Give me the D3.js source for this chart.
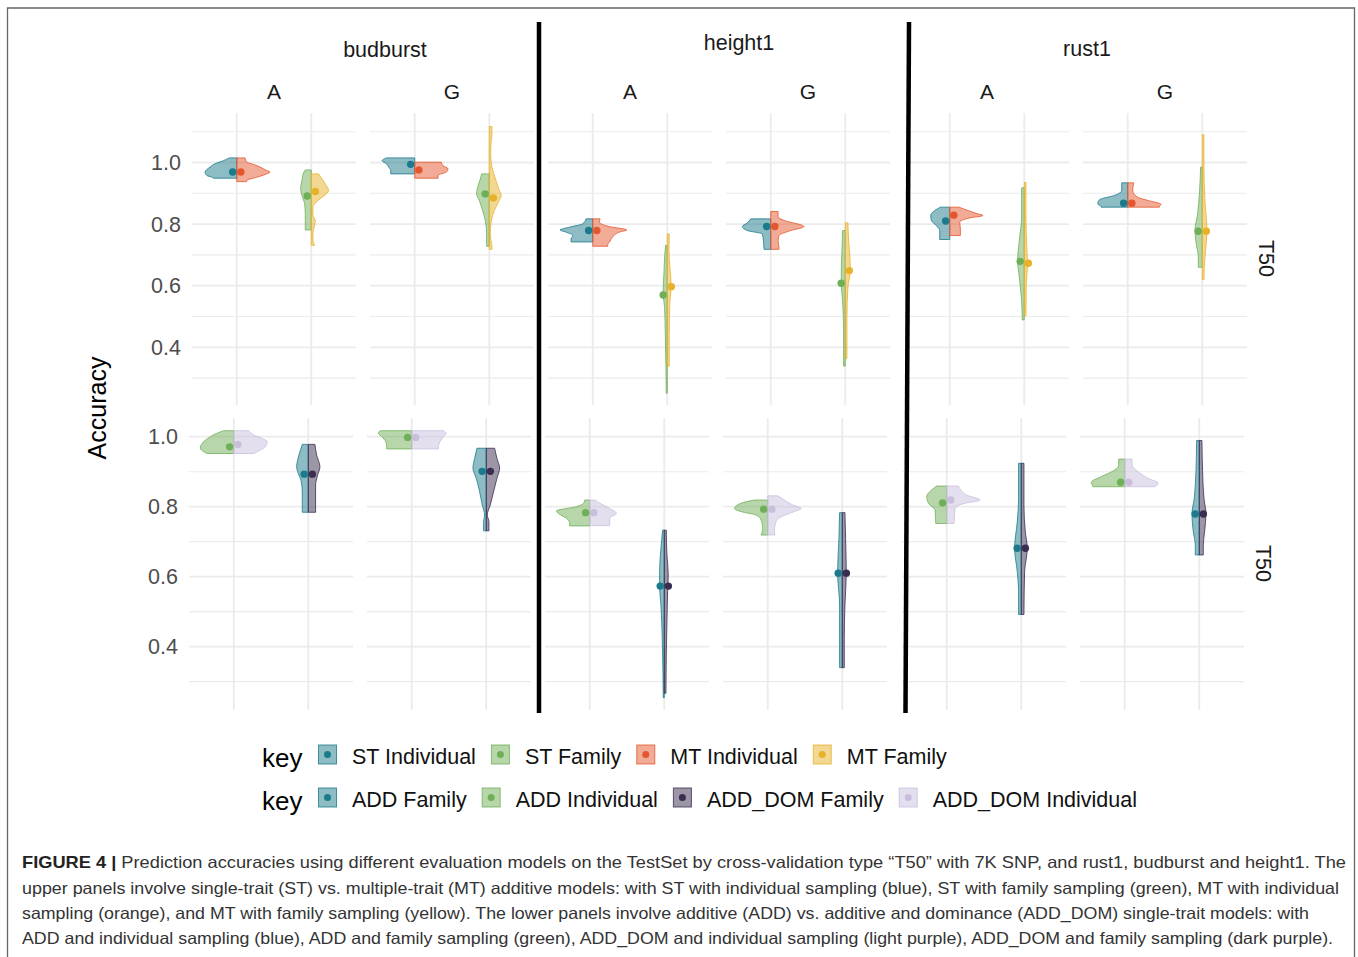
<!DOCTYPE html>
<html><head><meta charset="utf-8">
<script src="https://cdn.jsdelivr.net/npm/d3@7"></script>
<style>body{margin:0;background:#fff;} svg{display:block;font-family:"Liberation Sans",Arial,Helvetica,sans-serif;}</style>
</head><body><svg id="c" width="1358" height="957"></svg>
<script>
// ---------------- DATA ----------------
const traits = ["budburst", "height1", "rust1"];
const envs = ["A", "G"];
const categories = ["Individual", "Family"];
const yTicksMajor = [0.4, 0.6, 0.8, 1.0];
const yTicksMinor = [0.3, 0.5, 0.7, 0.9, 1.1];
const rowStripLabel = "T50";
const yTitle = "Accuracy";
const legendTitle = "key";
const keysST = ["ST Individual", "ST Family", "MT Individual", "MT Family"];
const keysADD = ["ADD Family", "ADD Individual", "ADD_DOM Family", "ADD_DOM Individual"];
const keyColors = {
  "ST Individual": "#1B7A8C", "ST Family": "#6FAF57", "MT Individual": "#E4572E", "MT Family": "#E8B12A",
  "ADD Family": "#1B7A8C", "ADD Individual": "#6FAF57", "ADD_DOM Family": "#3A2D50", "ADD_DOM Individual": "#C9BFDD"
};
const rightHalfKeys = ["MT Individual", "MT Family", "ADD_DOM Family", "ADD_DOM Individual"];

// half-violins: profile = [accuracy, relative density]
const budburstST = [
  {env:"A", cat:"Individual", key:"ST Individual", mean:0.969, profile:[[1.015,0.22],[1.006,0.40],[0.996,0.65],[0.985,0.80],[0.969,0.95],[0.958,0.90],[0.950,0.70],[0.949,0.70]]},
  {env:"A", cat:"Individual", key:"MT Individual", mean:0.969, profile:[[1.015,0.25],[1.001,0.30],[0.994,0.50],[0.985,0.70],[0.974,0.90],[0.969,1.00],[0.961,0.85],[0.952,0.60],[0.942,0.30],[0.938,0.30]]},
  {env:"A", cat:"Family", key:"ST Family", mean:0.891, profile:[[0.976,0.18],[0.969,0.22],[0.942,0.28],[0.915,0.32],[0.893,0.28],[0.866,0.20],[0.833,0.18],[0.812,0.18],[0.781,0.18]]},
  {env:"A", cat:"Family", key:"MT Family", mean:0.906, profile:[[0.963,0.22],[0.942,0.35],[0.925,0.45],[0.909,0.52],[0.893,0.40],[0.877,0.20],[0.855,0.05],[0.828,0.05],[0.812,0.12],[0.795,0.10],[0.774,0.05],[0.747,0.05],[0.731,0.10]]},
  {env:"G", cat:"Individual", key:"ST Individual", mean:0.994, profile:[[1.015,0.85],[1.006,0.98],[0.996,0.85],[0.985,0.78],[0.974,0.72],[0.963,0.72]]},
  {env:"G", cat:"Individual", key:"MT Individual", mean:0.976, profile:[[1.001,0.80],[0.990,0.85],[0.979,1.00],[0.969,0.95],[0.958,0.70],[0.949,0.70]]},
  {env:"G", cat:"Family", key:"ST Family", mean:0.898, profile:[[0.963,0.23],[0.942,0.28],[0.920,0.35],[0.898,0.38],[0.877,0.30],[0.844,0.20],[0.812,0.12],[0.768,0.08],[0.736,0.08],[0.728,0.08]]},
  {env:"G", cat:"Family", key:"MT Family", mean:0.885, profile:[[1.117,0.08],[1.093,0.08],[1.061,0.05],[1.028,0.04],[0.985,0.08],[0.942,0.20],[0.909,0.30],[0.893,0.36],[0.877,0.30],[0.844,0.15],[0.801,0.05],[0.768,0.03],[0.725,0.08],[0.718,0.08]]}
];
const height1ST = [
  {env:"A", cat:"Individual", key:"ST Individual", mean:0.779, profile:[[0.817,0.20],[0.801,0.30],[0.790,0.70],[0.781,0.98],[0.774,0.80],[0.763,0.60],[0.752,0.65],[0.742,0.65]]},
  {env:"A", cat:"Individual", key:"MT Individual", mean:0.779, profile:[[0.817,0.22],[0.806,0.20],[0.792,0.50],[0.781,1.02],[0.774,0.80],[0.758,0.60],[0.741,0.50],[0.734,0.45],[0.728,0.45]]},
  {env:"A", cat:"Family", key:"ST Family", mean:0.570, profile:[[0.731,0.05],[0.693,0.08],[0.639,0.10],[0.595,0.12],[0.568,0.12],[0.530,0.08],[0.444,0.06],[0.336,0.04],[0.251,0.03]]},
  {env:"A", cat:"Family", key:"MT Family", mean:0.597, profile:[[0.768,0.06],[0.714,0.05],[0.660,0.08],[0.595,0.12],[0.552,0.08],[0.444,0.06],[0.339,0.06]]},
  {env:"G", cat:"Individual", key:"ST Individual", mean:0.792, profile:[[0.817,0.60],[0.804,0.70],[0.792,0.85],[0.779,0.70],[0.768,0.25],[0.747,0.22],[0.718,0.20]]},
  {env:"G", cat:"Individual", key:"MT Individual", mean:0.792, profile:[[0.841,0.22],[0.823,0.22],[0.812,0.40],[0.792,1.00],[0.779,0.60],[0.763,0.25],[0.747,0.22],[0.720,0.25],[0.718,0.25]]},
  {env:"G", cat:"Family", key:"ST Family", mean:0.608, profile:[[0.779,0.08],[0.714,0.10],[0.639,0.12],[0.608,0.12],[0.552,0.08],[0.444,0.05],[0.339,0.05]]},
  {env:"G", cat:"Family", key:"MT Family", mean:0.649, profile:[[0.804,0.08],[0.747,0.10],[0.693,0.14],[0.649,0.15],[0.595,0.08],[0.498,0.05],[0.363,0.05]]}
];
const rust1ST = [
  {env:"A", cat:"Individual", key:"ST Individual", mean:0.810, profile:[[0.855,0.28],[0.844,0.45],[0.828,0.57],[0.812,0.55],[0.795,0.40],[0.779,0.30],[0.750,0.30]]},
  {env:"A", cat:"Individual", key:"MT Individual", mean:0.829, profile:[[0.855,0.28],[0.844,0.55],[0.833,0.85],[0.828,1.00],[0.820,0.60],[0.806,0.30],[0.785,0.32],[0.763,0.32]]},
  {env:"A", cat:"Family", key:"ST Family", mean:0.679, profile:[[0.918,0.08],[0.823,0.08],[0.747,0.15],[0.682,0.20],[0.628,0.15],[0.552,0.08],[0.489,0.06]]},
  {env:"A", cat:"Family", key:"MT Family", mean:0.673, profile:[[0.935,0.05],[0.823,0.05],[0.714,0.08],[0.671,0.10],[0.606,0.06],[0.503,0.05]]},
  {env:"G", cat:"Individual", key:"ST Individual", mean:0.868, profile:[[0.934,0.18],[0.909,0.18],[0.893,0.40],[0.879,0.85],[0.866,0.90],[0.857,0.80],[0.855,0.80]]},
  {env:"G", cat:"Individual", key:"MT Individual", mean:0.868, profile:[[0.934,0.18],[0.909,0.15],[0.887,0.30],[0.877,0.60],[0.864,1.00],[0.857,0.95],[0.855,0.95]]},
  {env:"G", cat:"Family", key:"ST Family", mean:0.777, profile:[[0.985,0.05],[0.909,0.08],[0.833,0.14],[0.779,0.22],[0.736,0.18],[0.693,0.12],[0.660,0.12]]},
  {env:"G", cat:"Family", key:"MT Family", mean:0.777, profile:[[1.090,0.05],[0.985,0.05],[0.877,0.08],[0.779,0.14],[0.714,0.10],[0.660,0.06],[0.620,0.05]]}
];
const budburstADD = [
  {env:"A", cat:"Individual", key:"ADD Individual", mean:0.971, profile:[[1.017,0.30],[1.010,0.50],[1.000,0.70],[0.990,0.85],[0.981,0.95],[0.967,1.00],[0.957,0.90],[0.952,0.80]]},
  {env:"A", cat:"Individual", key:"ADD_DOM Individual", mean:0.978, profile:[[1.017,0.45],[1.005,0.60],[0.995,0.85],[0.986,1.00],[0.971,0.95],[0.962,0.80],[0.952,0.60]]},
  {env:"A", cat:"Family", key:"ADD Family", mean:0.893, profile:[[0.978,0.18],[0.957,0.25],[0.933,0.32],[0.914,0.35],[0.895,0.30],[0.876,0.22],[0.843,0.18],[0.784,0.18]]},
  {env:"A", cat:"Family", key:"ADD_DOM Family", mean:0.893, profile:[[0.978,0.20],[0.948,0.25],[0.914,0.35],[0.890,0.28],[0.862,0.22],[0.784,0.22]]},
  {env:"G", cat:"Individual", key:"ADD Individual", mean:0.998, profile:[[1.017,0.95],[1.010,1.00],[1.000,0.90],[0.986,0.78],[0.971,0.75],[0.965,0.75]]},
  {env:"G", cat:"Individual", key:"ADD_DOM Individual", mean:0.998, profile:[[1.017,0.95],[1.010,1.03],[1.000,0.95],[0.986,0.85],[0.971,0.80],[0.965,0.80]]},
  {env:"G", cat:"Family", key:"ADD Family", mean:0.901, profile:[[0.967,0.28],[0.938,0.35],[0.910,0.40],[0.881,0.30],[0.843,0.20],[0.805,0.12],[0.776,0.05],[0.757,0.08],[0.731,0.08]]},
  {env:"G", cat:"Family", key:"ADD_DOM Family", mean:0.901, profile:[[0.967,0.25],[0.938,0.32],[0.910,0.40],[0.881,0.32],[0.843,0.22],[0.805,0.12],[0.776,0.03],[0.757,0.08],[0.731,0.08]]}
];
const height1ADD = [
  {env:"A", cat:"Individual", key:"ADD Individual", mean:0.783, profile:[[0.819,0.15],[0.810,0.18],[0.800,0.40],[0.788,1.00],[0.778,0.90],[0.767,0.70],[0.752,0.60],[0.745,0.60]]},
  {env:"A", cat:"Individual", key:"ADD_DOM Individual", mean:0.783, profile:[[0.819,0.15],[0.810,0.30],[0.795,0.60],[0.781,0.80],[0.767,0.60],[0.752,0.60],[0.746,0.60]]},
  {env:"A", cat:"Family", key:"ADD Family", mean:0.573, profile:[[0.733,0.05],[0.681,0.10],[0.614,0.14],[0.573,0.14],[0.519,0.10],[0.424,0.06],[0.329,0.04],[0.254,0.03]]},
  {env:"A", cat:"Family", key:"ADD_DOM Family", mean:0.573, profile:[[0.733,0.06],[0.662,0.08],[0.605,0.12],[0.557,0.10],[0.471,0.08],[0.376,0.06],[0.267,0.05]]},
  {env:"G", cat:"Individual", key:"ADD Individual", mean:0.793, profile:[[0.819,0.40],[0.810,0.80],[0.795,1.00],[0.786,0.80],[0.776,0.35],[0.762,0.20],[0.738,0.15],[0.719,0.20]]},
  {env:"G", cat:"Individual", key:"ADD_DOM Individual", mean:0.793, profile:[[0.831,0.30],[0.819,0.50],[0.805,0.75],[0.795,1.00],[0.786,0.80],[0.771,0.40],[0.757,0.25],[0.733,0.20],[0.719,0.22]]},
  {env:"G", cat:"Family", key:"ADD Family", mean:0.610, profile:[[0.783,0.08],[0.710,0.10],[0.610,0.14],[0.519,0.08],[0.424,0.08],[0.340,0.08]]},
  {env:"G", cat:"Family", key:"ADD_DOM Family", mean:0.610, profile:[[0.783,0.08],[0.710,0.10],[0.610,0.12],[0.519,0.08],[0.424,0.06],[0.340,0.06]]}
];
const rust1ADD = [
  {env:"A", cat:"Individual", key:"ADD Individual", mean:0.811, profile:[[0.859,0.30],[0.848,0.45],[0.829,0.60],[0.810,0.55],[0.790,0.35],[0.752,0.33]]},
  {env:"A", cat:"Individual", key:"ADD_DOM Individual", mean:0.819, profile:[[0.859,0.35],[0.848,0.42],[0.833,0.60],[0.819,1.00],[0.810,0.55],[0.795,0.25],[0.752,0.22]]},
  {env:"A", cat:"Family", key:"ADD Family", mean:0.681, profile:[[0.924,0.08],[0.824,0.08],[0.757,0.12],[0.681,0.20],[0.614,0.12],[0.557,0.08],[0.492,0.08]]},
  {env:"A", cat:"Family", key:"ADD_DOM Family", mean:0.681, profile:[[0.924,0.08],[0.805,0.08],[0.729,0.12],[0.681,0.18],[0.614,0.10],[0.492,0.08]]},
  {env:"G", cat:"Individual", key:"ADD Individual", mean:0.870, profile:[[0.936,0.18],[0.919,0.18],[0.905,0.30],[0.886,0.70],[0.870,1.00],[0.857,0.95]]},
  {env:"G", cat:"Individual", key:"ADD_DOM Individual", mean:0.870, profile:[[0.936,0.22],[0.919,0.22],[0.900,0.40],[0.881,0.70],[0.867,1.00],[0.857,0.90]]},
  {env:"G", cat:"Family", key:"ADD Family", mean:0.779, profile:[[0.989,0.08],[0.900,0.10],[0.824,0.15],[0.779,0.22],[0.729,0.18],[0.690,0.12],[0.662,0.12]]},
  {env:"G", cat:"Family", key:"ADD_DOM Family", mean:0.779, profile:[[0.989,0.08],[0.900,0.10],[0.824,0.14],[0.779,0.20],[0.729,0.16],[0.690,0.12],[0.662,0.12]]}
];
const captionLines = [
  "Prediction accuracies using different evaluation models on the TestSet by cross-validation type \u201CT50\u201D with 7K SNP, and rust1, budburst and height1. The",
  "upper panels involve single-trait (ST) vs. multiple-trait (MT) additive models: with ST with individual sampling (blue), ST with family sampling (green), MT with individual",
  "sampling (orange), and MT with family sampling (yellow). The lower panels involve additive (ADD) vs. additive and dominance (ADD_DOM) single-trait models: with",
  "ADD and individual sampling (blue), ADD and family sampling (green), ADD_DOM and individual sampling (light purple), ADD_DOM and family sampling (dark purple)."
];
const captionLead = "FIGURE 4 |";

// ---------------- LAYOUT ----------------
const svg = d3.select("#c");
const W = 1358, H = 957;
svg.append("path").attr("d", `M7.5,${H + 2}V8H1354.5V${H + 2}`)
  .attr("fill", "none").attr("stroke", "#666").attr("stroke-width", 1.3);

const rowsLayout = [
  {data: {budburst: budburstST, height1: height1ST, rust1: rust1ST}, domain: [0.2127, 1.1607], range: [405, 113], dx: 0, stripY: 258.5, stripX: 1267},
  {data: {budburst: budburstADD, height1: height1ADD, rust1: rust1ADD}, domain: [0.219, 1.0534], range: [710, 418], dx: -3, stripY: 563.5, stripX: 1264}
];
const traitX = [192, 548, 905];
const panelW = 164, envStep = 178;
const widthScale = d3.scaleLinear().domain([0, 1]).range([0, 0.447]);
const dodge = 0.055;
const grid = "#EBEBEB";

const gPlot = svg.append("g");

rowsLayout.forEach((row, ri) => {
  const y = d3.scaleLinear().domain(row.domain).range(row.range);
  traits.forEach((trait, ti) => {
    envs.forEach((env, ei) => {
      const x0 = traitX[ti] + ei * envStep + row.dx;
      const x = d3.scaleLinear().domain([0.4, 2.6]).range([x0, x0 + panelW]);
      const g = gPlot.append("g");
      // grid
      yTicksMinor.filter(v => v > row.domain[0] && v < row.domain[1]).forEach(v => {
        g.append("line").attr("x1", x0).attr("x2", x0 + panelW).attr("y1", y(v)).attr("y2", y(v))
          .attr("stroke", grid).attr("stroke-width", 1.1);
      });
      yTicksMajor.forEach(v => {
        g.append("line").attr("x1", x0).attr("x2", x0 + panelW).attr("y1", y(v)).attr("y2", y(v))
          .attr("stroke", grid).attr("stroke-width", 1.8);
      });
      categories.forEach((c, ci) => {
        g.append("line").attr("x1", x(ci + 1)).attr("x2", x(ci + 1)).attr("y1", row.range[1]).attr("y2", row.range[0])
          .attr("stroke", grid).attr("stroke-width", 1.8);
      });
      // violins
      const recs = row.data[trait].filter(d => d.env === env);
      recs.forEach(d => {
        const ci = categories.indexOf(d.cat) + 1;
        const side = rightHalfKeys.includes(d.key) ? 1 : -1;
        const col = keyColors[d.key];
        const area = d3.area().curve(d3.curveMonotoneY)
          .y(p => y(p[0])).x0(x(ci)).x1(p => x(ci + side * widthScale(p[1])));
        g.append("path").attr("d", area(d.profile))
          .attr("fill", col).attr("fill-opacity", 0.5)
          .attr("stroke", col).attr("stroke-opacity", 0.8).attr("stroke-width", 1);
      });
      recs.forEach(d => {
        const ci = categories.indexOf(d.cat) + 1;
        const side = rightHalfKeys.includes(d.key) ? 1 : -1;
        g.append("circle").attr("cx", x(ci + side * dodge)).attr("cy", y(d.mean)).attr("r", 3.7)
          .attr("fill", keyColors[d.key]);
      });
      // env strip (top row only)
      if (ri === 0) {
        svg.append("text").attr("x", x0 + panelW / 2).attr("y", 99).attr("text-anchor", "middle")
          .attr("font-size", 21).attr("fill", "#1A1A1A").text(env);
      }
    });
  });
  // y axis tick labels
  const ax = svg.append("g");
  yTicksMajor.forEach(v => {
    ax.append("text").attr("x", traitX[0] + row.dx - 11).attr("y", y(v)).attr("dy", "0.36em")
      .attr("text-anchor", "end").attr("font-size", 21.5).attr("fill", "#4D4D4D").text(v.toFixed(1));
  });
  // right strip
  svg.append("text").attr("transform", `translate(${row.stripX},${row.stripY}) rotate(90)`)
    .attr("text-anchor", "middle").attr("dy", "0.36em").attr("font-size", 21.5).attr("fill", "#1A1A1A").text(rowStripLabel);
});

// trait titles
const traitTitlePos = [[385, 57], [739, 50], [1087, 56]];
traits.forEach((t, i) => {
  svg.append("text").attr("x", traitTitlePos[i][0]).attr("y", traitTitlePos[i][1]).attr("text-anchor", "middle")
    .attr("font-size", 21.5).attr("fill", "#1A1A1A").text(t);
});

// separators
svg.append("line").attr("x1", 539).attr("x2", 539).attr("y1", 22).attr("y2", 713).attr("stroke", "#000").attr("stroke-width", 4.5);
svg.append("line").attr("x1", 909).attr("x2", 905.5).attr("y1", 22).attr("y2", 713).attr("stroke", "#000").attr("stroke-width", 4.5);

// y title
svg.append("text").attr("transform", "translate(106,408) rotate(-90)").attr("text-anchor", "middle")
  .attr("font-size", 25).attr("fill", "#000").text(yTitle);

// legends
function legendRow(keys, baseY) {
  const g = svg.append("g");
  g.append("text").attr("x", 262).attr("y", baseY + 3).attr("font-size", 26).attr("fill", "#000").text(legendTitle);
  let cx = 318;
  keys.forEach(k => {
    const col = keyColors[k];
    g.append("rect").attr("x", cx + 0.5).attr("y", baseY - 19).attr("width", 18).attr("height", 19)
      .attr("fill", col).attr("fill-opacity", 0.5).attr("stroke", col).attr("stroke-opacity", 0.8).attr("stroke-width", 1);
    g.append("circle").attr("cx", cx + 9.5).attr("cy", baseY - 9.5).attr("r", 3.5).attr("fill", col);
    const t = g.append("text").attr("x", cx + 34).attr("y", baseY).attr("font-size", 21.5).attr("fill", "#111").text(k);
    cx = cx + 34 + t.node().getComputedTextLength() + 15;
  });
}
legendRow(keysST, 764);
legendRow(keysADD, 807);

// caption
const capWidths = [1324, 1317, 1287, 1311];
const capY = [868, 893.5, 918.5, 943.5];
captionLines.forEach((line, i) => {
  const t = svg.append("text").attr("x", 22).attr("y", capY[i]).attr("font-size", 16.5).attr("fill", "#333")
    .attr("textLength", capWidths[i]).attr("lengthAdjust", "spacingAndGlyphs");
  if (i === 0) {
    t.append("tspan").attr("font-weight", "bold").attr("fill", "#222").text(captionLead + " ");
  }
  t.append("tspan").text(line);
});
</script>
</body></html>
